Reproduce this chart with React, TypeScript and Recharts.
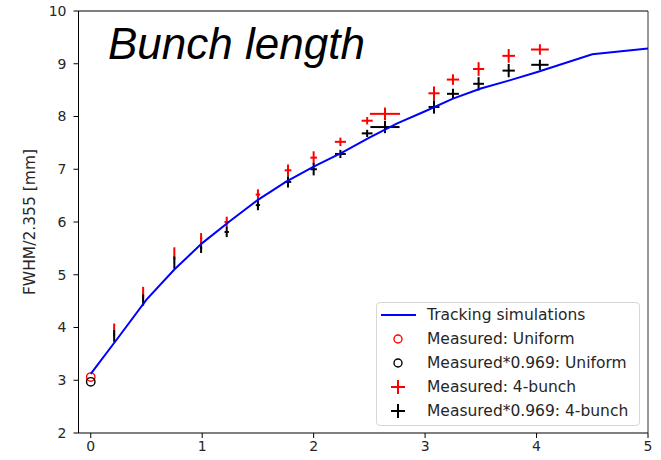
import { ComposedChart, Scatter, XAxis, YAxis, ErrorBar, ReferenceLine, Legend, Customized } from 'recharts';

// tracking simulation curve
const simX = [0, 0.25, 0.5, 0.75, 1.0, 1.25, 1.5, 1.75, 2.0, 2.25, 2.5, 2.75, 3.0, 3.25, 3.5, 3.75, 4.0, 4.5, 5.0];
const simY = [3.12, 3.82, 4.53, 5.1, 5.6, 6.02, 6.42, 6.76, 7.05, 7.31, 7.6, 7.87, 8.1, 8.34, 8.53, 8.68, 8.84, 9.18, 9.29];

// uniform fill measurement
const uniX = [0];
const uniY = [3.06];
const uniScaledY = [2.97];

// 4-bunch measurements
const bunchX = [0.21, 0.47, 0.75, 0.99, 1.22, 1.5, 1.77, 2.0, 2.24, 2.48, 2.64, 3.08, 3.25, 3.48, 3.75, 4.03];
const bunchY = [3.96, 4.66, 5.4, 5.69, 6.0, 6.52, 6.98, 7.22, 7.52, 7.92, 8.05, 8.44, 8.7, 8.9, 9.15, 9.27];
const bunchScaledY = [3.84, 4.52, 5.23, 5.51, 5.81, 6.32, 6.76, 7.0, 7.29, 7.68, 7.8, 8.18, 8.43, 8.62, 8.87, 8.98];
const bunchXErr = [0.005, 0.005, 0.005, 0.01, 0.02, 0.02, 0.03, 0.03, 0.05, 0.05, 0.135, 0.05, 0.055, 0.05, 0.057, 0.08];
const bunchYErr = [0.115, 0.11, 0.12, 0.1, 0.1, 0.1, 0.11, 0.12, 0.08, 0.07, 0.12, 0.13, 0.1, 0.13, 0.13, 0.1];

const xTicks = [0, 1, 2, 3, 4, 5];
const yTicks = [2, 3, 4, 5, 6, 7, 8, 9, 10];

const simData = simX.map((x, i) => ({ x, y: simY[i] }));
const uniData = uniX.map((x, i) => ({ x, y: uniY[i] }));
const uniScaledData = uniX.map((x, i) => ({ x, y: uniScaledY[i] }));
const bunchData = bunchX.map((x, i) => ({ x, y: bunchY[i], ex: bunchXErr[i], ey: bunchYErr[i] }));
const bunchScaledData = bunchX.map((x, i) => ({ x, y: bunchScaledY[i], ex: bunchXErr[i] * 0.969, ey: bunchYErr[i] * 0.969 }));

const FONT = '"DejaVu Sans", sans-serif';
const TXT = '#262626';

const hidden = () => <g />;
const ring = (color: string) => (p: any) => (
    <circle cx={p.cx} cy={p.cy} r={4.2} fill="none" stroke={color} strokeWidth={1.4} />
);

const legendRows = [
    { label: 'Tracking simulations', kind: 'line', color: '#0000ff' },
    { label: 'Measured: Uniform', kind: 'ring', color: '#ff0000' },
    { label: 'Measured*0.969: Uniform', kind: 'ring', color: '#000000' },
    { label: 'Measured: 4-bunch', kind: 'plus', color: '#ff0000' },
    { label: 'Measured*0.969: 4-bunch', kind: 'plus', color: '#000000' },
];

const LegendBox = () => (
    <div
        style={{
            position: 'relative',
            width: 262,
            height: 122,
            border: '1px solid #d6d6d6',
            borderRadius: 4,
            background: '#fff',
            fontFamily: FONT,
            fontSize: 15.5,
            color: TXT,
        }}
    >
        {legendRows.map((r, i) => (
            <div key={r.label} style={{ position: 'absolute', left: 0, top: i * 24, height: 24, width: 262 }}>
                <svg width={46} height={24} style={{ position: 'absolute', left: 0, top: 0 }}>
                    {r.kind === 'line' && <line x1={4} x2={39} y1={12} y2={12} stroke={r.color} strokeWidth={2} />}
                    {r.kind === 'ring' && <circle cx={21} cy={12} r={4} fill="none" stroke={r.color} strokeWidth={1.4} />}
                    {r.kind === 'plus' && (
                        <g stroke={r.color} strokeWidth={2}>
                            <line x1={14} x2={28} y1={12} y2={12} />
                            <line x1={21} x2={21} y1={5} y2={19} />
                        </g>
                    )}
                </svg>
                <span style={{ position: 'absolute', left: 50, top: 0, lineHeight: '24px', whiteSpace: 'nowrap' }}>{r.label}</span>
            </div>
        ))}
    </div>
);

const Title = () => (
    <text x={108} y={59} fontFamily='"Liberation Sans", Arial, sans-serif' fontStyle="italic" fontSize={44} fill="#000">
        Bunch length
    </text>
);

const YLabel = () => (
    <text
        x={30}
        y={222}
        transform="rotate(-90, 30, 222)"
        textAnchor="middle"
        dominantBaseline="central"
        fontFamily={FONT}
        fontSize={15.5}
        fill={TXT}
    >
        FWHM/2.355 [mm]
    </text>
);

export default function App() {
    return (
        <div style={{ position: 'absolute', left: 0, top: 0, width: 661, height: 460, background: '#fff' }}>
            <ComposedChart width={661} height={460} margin={{ top: 11, right: 13, bottom: 0, left: 0 }}>
                <XAxis
                    dataKey="x"
                    type="number"
                    domain={[-0.11, 5]}
                    ticks={xTicks}
                    allowDataOverflow
                    height={27}
                    tickSize={5}
                    tickMargin={3}
                    stroke="#000"
                    tick={{ fill: TXT, fontFamily: FONT, fontSize: 14 }}
                />
                <YAxis
                    dataKey="y"
                    type="number"
                    domain={[2, 10]}
                    ticks={yTicks}
                    allowDataOverflow
                    width={78.5}
                    tickSize={5}
                    tickMargin={7}
                    stroke="#000"
                    tick={{ fill: TXT, fontFamily: FONT, fontSize: 14 }}
                />
                <ReferenceLine y={10} stroke="#000" />
                <ReferenceLine x={5} stroke="#333" />

                <Scatter data={uniData} shape={ring('#ff0000')} isAnimationActive={false} />
                <Scatter data={uniScaledData} shape={ring('#000000')} isAnimationActive={false} />

                <Scatter data={bunchData} shape={hidden} isAnimationActive={false}>
                    <ErrorBar dataKey="ex" direction="x" width={0} stroke="#ff0000" strokeWidth={2} isAnimationActive={false} />
                    <ErrorBar dataKey="ey" direction="y" width={0} stroke="#ff0000" strokeWidth={2} isAnimationActive={false} />
                </Scatter>
                <Scatter data={bunchScaledData} shape={hidden} isAnimationActive={false}>
                    <ErrorBar dataKey="ex" direction="x" width={0} stroke="#000000" strokeWidth={2} isAnimationActive={false} />
                    <ErrorBar dataKey="ey" direction="y" width={0} stroke="#000000" strokeWidth={2} isAnimationActive={false} />
                </Scatter>

                <Scatter
                    data={simData}
                    shape={hidden}
                    line={{ stroke: '#0000ff', strokeWidth: 2 }}
                    lineType="joint"
                    isAnimationActive={false}
                />

                <Customized component={Title} />
                <Customized component={YLabel} />

                <Legend
                    layout="vertical"
                    align="center"
                    verticalAlign="middle"
                    content={LegendBox}
                    wrapperStyle={{ left: 376, top: 302, width: 264, height: 124 }}
                />
            </ComposedChart>
        </div>
    );
}
